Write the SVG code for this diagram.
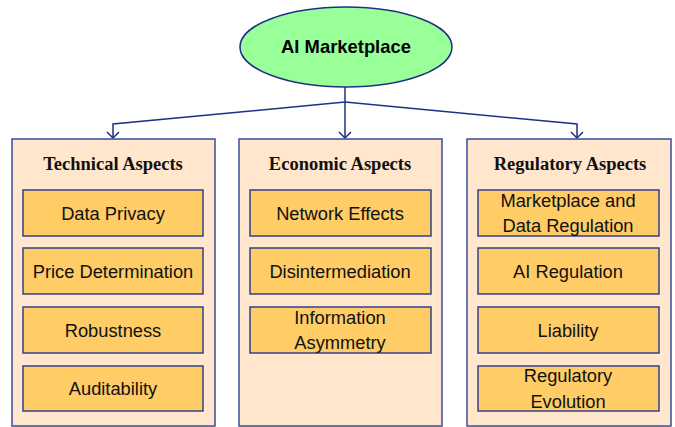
<svg xmlns="http://www.w3.org/2000/svg" width="675" height="427" viewBox="0 0 675 427">
  <style>
    .root { fill: #99ff99; stroke: #1f3185; stroke-width: 1.5; }
    .root-label { font-family: "Liberation Sans", Arial, sans-serif; font-size: 18.4px; font-weight: bold; fill: #000; text-anchor: middle; }
    .panel { fill: #ffe6cc; stroke: #3a4d98; stroke-width: 1.5; }
    .panel-title { font-family: "Liberation Serif", "Times New Roman", serif; font-size: 18.5px; font-weight: bold; fill: #111; text-anchor: middle; }
    .item { fill: #ffcc66; stroke: #2f4290; stroke-width: 1.5; }
    .item-label { font-family: "Liberation Sans", Arial, sans-serif; font-size: 18.3px; fill: #111; text-anchor: middle; }
    .link { fill: none; stroke: #1f3185; stroke-width: 1.5; }
  </style>
  <defs>
    <!-- open V arrowhead, tip on the line end -->
    <marker id="arrow" viewBox="0 0 8 14" refX="7" refY="7" markerWidth="8" markerHeight="14" markerUnits="userSpaceOnUse" orient="auto">
      <path d="M1,1 L7,7 L1,13" fill="none" stroke="#1f3185" stroke-width="1.5"/>
    </marker>
  </defs>

  <rect width="675" height="427" fill="#ffffff"/>

  <!-- connectors -->
  <g id="connectors">
    <path class="link" d="M345,87 V138" marker-end="url(#arrow)"/>
    <path class="link" d="M345,102 L113,124 V138" marker-end="url(#arrow)"/>
    <path class="link" d="M345,102 L577,124 V138" marker-end="url(#arrow)"/>
  </g>

  <!-- root -->
  <g id="ai-marketplace">
    <ellipse class="root" cx="346" cy="47" rx="106" ry="40"/>
    <text class="root-label" x="346" y="53">AI Marketplace</text>
  </g>

  <!-- technical -->
  <g id="technical-aspects">
    <rect class="panel" x="12" y="139" width="203" height="287"/>
    <text class="panel-title" x="113" y="170">Technical Aspects</text>
  </g>
  <g id="data-privacy">
    <rect class="item" x="23" y="190" width="180" height="46"/>
    <text class="item-label" x="113" y="220">Data Privacy</text>
  </g>
  <g id="price-determination">
    <rect class="item" x="23" y="248" width="180" height="46"/>
    <text class="item-label" x="113" y="278">Price Determination</text>
  </g>
  <g id="robustness">
    <rect class="item" x="23" y="307" width="180" height="46"/>
    <text class="item-label" x="113" y="337">Robustness</text>
  </g>
  <g id="auditability">
    <rect class="item" x="23" y="366" width="180" height="45"/>
    <text class="item-label" x="113" y="395">Auditability</text>
  </g>

  <!-- economic -->
  <g id="economic-aspects">
    <rect class="panel" x="239" y="139" width="203" height="287"/>
    <text class="panel-title" x="340" y="170">Economic Aspects</text>
  </g>
  <g id="network-effects">
    <rect class="item" x="250" y="190" width="181" height="46"/>
    <text class="item-label" x="340" y="220">Network Effects</text>
  </g>
  <g id="disintermediation">
    <rect class="item" x="250" y="248" width="181" height="46"/>
    <text class="item-label" x="340" y="278">Disintermediation</text>
  </g>
  <g id="information-asymmetry">
    <rect class="item" x="250" y="307" width="181" height="46"/>
    <text class="item-label" x="340" y="324">Information</text>
    <text class="item-label" x="340" y="349">Asymmetry</text>
  </g>

  <!-- regulatory -->
  <g id="regulatory-aspects">
    <rect class="panel" x="467" y="139" width="204" height="287"/>
    <text class="panel-title" x="570" y="170">Regulatory Aspects</text>
  </g>
  <g id="marketplace-data-regulation">
    <rect class="item" x="478" y="190" width="181" height="46"/>
    <text class="item-label" x="568" y="207">Marketplace and</text>
    <text class="item-label" x="568" y="232">Data Regulation</text>
  </g>
  <g id="ai-regulation">
    <rect class="item" x="478" y="248" width="181" height="46"/>
    <text class="item-label" x="568" y="278">AI Regulation</text>
  </g>
  <g id="liability">
    <rect class="item" x="478" y="307" width="181" height="46"/>
    <text class="item-label" x="568" y="337">Liability</text>
  </g>
  <g id="regulatory-evolution">
    <rect class="item" x="478" y="366" width="181" height="45"/>
    <text class="item-label" x="568" y="382">Regulatory</text>
    <text class="item-label" x="568" y="408">Evolution</text>
  </g>
</svg>
